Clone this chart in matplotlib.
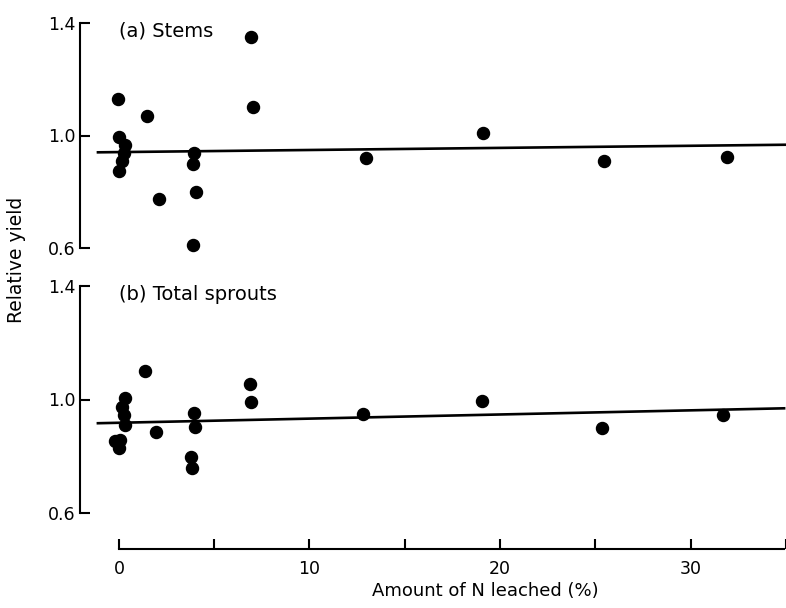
import numpy as np
import matplotlib
matplotlib.use("Agg")
import matplotlib.pyplot as plt

# 数据
stems_x = [-0.05, 1.45, 6.9, 7.0, 0.0, 0.3, 0.25, 0.15, 0.0, 2.1, 3.95, 3.85, 4.05, 3.85, 12.9, 19.05, 25.4, 31.8]
stems_y = [1.13, 1.07, 1.35, 1.10, 0.995, 0.965, 0.937, 0.908, 0.875, 0.775, 0.937, 0.898, 0.80, 0.61, 0.92, 1.008, 0.908, 0.923]

sprouts_x = [1.35, 6.9, 6.95, 0.3, 0.15, 0.25, 0.3, 0.05, -0.2, 0.0, 1.95, 3.95, 4.0, 3.8, 3.85, 12.8, 19.05, 25.35, 31.7]
sprouts_y = [1.10, 1.054, 0.99, 1.005, 0.972, 0.944, 0.911, 0.858, 0.852, 0.828, 0.887, 0.952, 0.902, 0.797, 0.760, 0.950, 0.996, 0.899, 0.946]

# 回归线 (截距, 斜率)
stems_fit = [0.941, 0.00075]
sprouts_fit = [0.918, 0.00146]

x_ticks = [0, 10, 20, 30]
x_minor = [5, 15, 25, 35]
y_ticks = [0.6, 1.0, 1.4]

plt.rcParams['font.family'] = ['DejaVu Sans']
plt.rcParams['font.size'] = 13

XMIN, XMAX = -2.04, 34.9


def style_axis(ax, ylo):
    ax.set_xlim(XMIN, XMAX)
    ax.set_ylim(ylo, 1.4)
    for s in ['top', 'right']:
        ax.spines[s].set_visible(False)
    ax.spines['left'].set_linewidth(1.5)
    ax.spines['left'].set_bounds(0.6, 1.4)
    ax.set_yticks(y_ticks)
    ax.set_yticklabels(['0.6', '1.0', '1.4'])
    ax.tick_params(axis='y', direction='in', length=7, width=1.5, pad=3, labelsize=12.5)


def panel(ax, xs, ys, fit, label):
    line_x = np.array([-1.1, XMAX])
    ax.plot(line_x, fit[0] + fit[1] * line_x, color='black', linewidth=1.9)
    ax.scatter(xs, ys, s=75, color='black', zorder=3, clip_on=False)
    ax.text(0.0, 1.37, label, fontsize=14, va='center', ha='left')


fig = plt.figure(figsize=(7.86, 6.08), dpi=100)

# (a) Stems
ax1 = fig.add_axes([80 / 786, 1 - 248 / 608, 1 - 80 / 786, 225 / 608])
style_axis(ax1, 0.6)
ax1.spines['bottom'].set_visible(False)
ax1.set_xticks([])
panel(ax1, stems_x, stems_y, stems_fit, '(a) Stems')

# (b) Total sprouts
ylo = 0.6 - 36 * 0.8 / 227
ax2 = fig.add_axes([80 / 786, 1 - 549 / 608, 1 - 80 / 786, 263 / 608])
style_axis(ax2, ylo)
ax2.spines['bottom'].set_linewidth(1.5)
ax2.spines['bottom'].set_bounds(0, XMAX)
ax2.set_xticks(x_ticks)
ax2.set_xticks(x_minor, minor=True)
ax2.tick_params(axis='x', which='both', direction='in', length=7, width=1.5, pad=8, labelsize=12.5)
panel(ax2, sprouts_x, sprouts_y, sprouts_fit, '(b) Total sprouts')

fig.text(485 / 786, 1 - 591 / 608, 'Amount of N leached (%)', ha='center', va='center', fontsize=13)
fig.text(17 / 786, 1 - 260 / 608, 'Relative yield', ha='center', va='center', rotation=90, fontsize=13.5)

fig.savefig('out.png', dpi=100)
